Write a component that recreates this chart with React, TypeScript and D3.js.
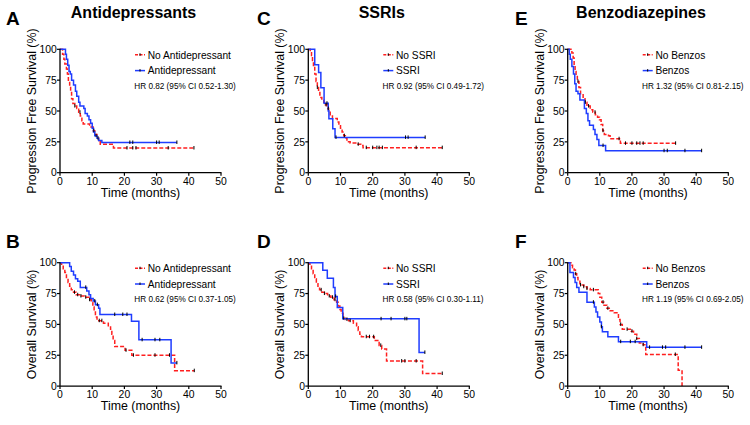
import React from 'react';
import * as d3 from 'd3';

type Pt = [number, number];

// ---------- Data (time in months, survival in %) ----------
// A: PFS, antidepressants
const aNoSteps: Pt[] = [[0,100],[0.8,96],[1.2,92],[1.5,88],[2,84],[2.3,80],[2.6,75],[3,70],[3.3,65],[3.6,60],[4,56],[4.6,54],[5.2,52],[5.8,49],[6.3,46],[6.8,42],[7.2,39.5],[9.2,37],[10.3,34],[10.8,31],[11.5,28],[12,26],[12.5,23],[16.6,20],[41.6,20]];
const aNoCens: number[] = [4.6, 6.2, 10.5, 11.8, 20.8, 22.6, 23.6, 33.6, 41.6];
const aYesSteps: Pt[] = [[0,100],[1.7,96],[2,92],[2.4,87],[2.8,82],[3.2,80],[3.6,75],[4.2,71],[4.8,66],[5.2,62],[5.8,57],[6.2,54],[7.4,52],[7.8,48],[8.5,46],[9,43],[9.5,40],[10,36],[10.4,33],[10.8,30],[11.5,28],[12,26],[13,24.5],[36.3,24.5]];
const aYesCens: number[] = [11.2, 21.7, 22.6, 30, 30.8, 36.3];

// B: OS, antidepressants
const bNoSteps: Pt[] = [[0,100],[0.5,98],[1,95],[1.5,92],[2,88],[2.5,84],[3,81],[3.5,78],[4.2,76],[5,74],[6,73],[7.5,72],[9,70],[9.7,68],[10.2,64],[10.6,60],[11,56],[11.5,53],[13.5,51],[15,49],[15.7,46],[16.1,42],[16.5,37],[17,32],[20.2,29],[22.3,25],[35.6,12.5],[41.7,12.5]];
const bNoCens: number[] = [4.5, 5.5, 6.5, 8, 9.2, 12.2, 13, 20.5, 22.8, 29.5, 34, 41.7];
const bYesSteps: Pt[] = [[0,100],[3,97],[3.5,93],[4.2,90],[4.8,87],[5.5,85],[6.3,80],[8.3,77],[9,74],[9.5,71],[10.3,69],[11,66],[12,63],[12.4,58],[22.2,52.5],[24.5,37.5],[34.5,18.8],[36.3,18.8]];
const bYesCens: number[] = [8, 10.8, 11.6, 17, 19.5, 20.8, 25.5, 29.5, 31, 36.3];

// C: PFS, SSRIs
const cNoSteps: Pt[] = [[0,100],[0.6,98],[1,95],[1.3,91],[1.6,86],[2,80],[2.4,74],[2.8,69],[3.2,65],[3.6,61],[4.2,59],[4.8,57],[5.3,55],[5.8,52],[6.3,49],[6.8,46],[7.5,44],[9,41],[9.5,38],[10,36],[10.5,33],[11,30],[11.5,28],[12,25],[13,24],[15,23],[16.3,22],[17,20.3],[41.6,20.3]];
const cNoCens: number[] = [2.8, 5.5, 6.2, 11.2, 15.5, 18, 20, 21.3, 22, 23, 33.5, 41.6];
const cYesSteps: Pt[] = [[0,100],[2,87.5],[3.2,81.3],[3.9,68.8],[4.9,56.3],[6.2,50],[6.4,43.8],[7.6,35.7],[8.3,28.6],[36.3,28.6]];
const cYesCens: number[] = [5.8, 8.6, 30.2, 31, 36.3];

// D: OS, SSRIs
const dNoSteps: Pt[] = [[0,100],[0.5,98],[1,95],[1.5,91],[2,87],[2.5,83],[3,80],[3.5,78],[4.2,76],[5,75],[6,73],[7,72],[8,70],[8.8,68],[9.3,65],[9.8,62],[10.2,59],[10.8,55],[11.5,54],[12.5,53],[14,51],[15,48],[15.5,45],[16,42],[16.5,40],[20.5,37],[22,33],[22.8,30],[24.3,20.3],[35.5,10.2],[41.6,10.2]];
const dNoCens: number[] = [4, 5, 6.5, 7.5, 8.3, 11, 12, 13, 18, 19, 20.3, 22.5, 29, 30, 33.5, 41.6];
const dYesSteps: Pt[] = [[0,100],[4.5,93.8],[5.9,87.5],[7.8,80],[8.3,72.7],[9,63.6],[10.7,54.5],[34.4,27.3],[36.2,27.3]];
const dYesCens: number[] = [8.5, 22.6, 25.7, 30, 30.6, 36.2];

// E: PFS, benzodiazepines
const eNoSteps: Pt[] = [[0,100],[1.3,97],[1.7,93],[2,87],[2.3,82],[2.6,78],[3,74],[3.5,69],[4,64],[4.8,60],[5.4,57],[6,54],[7,51],[7.8,49],[8.6,47],[9.3,45],[9.9,43],[10.4,39],[10.9,34],[11.4,31],[12.7,30],[13.2,27.5],[16.4,23.8],[33.6,23.8]];
const eNoCens: number[] = [3.2, 5.5, 6.5, 8.5, 11, 16, 18, 20, 21.5, 22.5, 23.5, 33.6];
const eYesSteps: Pt[] = [[0,100],[0.5,96],[0.8,92],[1.3,86],[1.8,80],[2.2,72],[2.6,66],[3.2,64],[3.8,59],[5.2,52],[5.8,48],[6.3,42],[6.8,38.5],[8,35],[8.5,31],[9.1,27],[9.7,22],[11.8,17.8],[41.7,17.8]];
const eYesCens: number[] = [11, 30, 31, 36.5, 41.7];

// F: OS, benzodiazepines
const fNoSteps: Pt[] = [[0,100],[1,98],[1.5,96],[2,94],[2.4,91],[2.8,88],[3.2,85],[3.8,82],[5,80.5],[6,79],[7,78],[9.5,75],[10,72],[10.6,68],[11.3,65.5],[12.2,63],[13.2,61],[14.5,59.5],[15.8,54],[16.3,50],[17,46],[19.8,44.5],[20.5,42],[21.5,38.5],[22.3,35],[23.5,33.5],[24.3,25.6],[34.4,12.8],[35.6,0]];
const fNoCens: number[] = [2.5, 4, 5, 6, 8, 11, 12.5, 16.5, 18.5, 20, 21.5, 23.5, 33.5];
const fYesSteps: Pt[] = [[0,100],[0.7,92],[1.8,88],[2.3,84],[2.8,80],[3.5,76],[6,68],[8.3,64],[8.8,60],[9.3,56],[10,52],[10.5,48],[10.8,44],[12.5,40],[15.8,36],[24.6,31.4],[41.7,31.4]];
const fYesCens: number[] = [8, 10.5, 16.5, 19.5, 21, 25.5, 29.5, 30.5, 36.5, 41.7];

// ---------- Labels ----------
const letters = ['A', 'B', 'C', 'D', 'E', 'F'];
const titles = ['Antidepressants', 'SSRIs', 'Benzodiazepines'];
const noLabels = ['No Antidepressant', 'No SSRI', 'No Benzos'];
const yesLabels = ['Antidepressant', 'SSRI', 'Benzos'];
const hrTexts = [
  'HR 0.82 (95% CI 0.52-1.30)',
  'HR 0.62 (95% CI 0.37-1.05)',
  'HR 0.92 (95% CI 0.49-1.72)',
  'HR 0.58 (95% CI 0.30-1.11)',
  'HR 1.32 (95% CI 0.81-2.15)',
  'HR 1.19 (95% CI 0.69-2.05)',
];
const yLabels = ['Progression Free Survival (%)', 'Overall Survival (%)'];
const xLabel = 'Time (months)';
const xTicks = [0, 10, 20, 30, 40, 50];
const yTicks = [0, 25, 50, 75, 100];

const noData: Pt[][] = [aNoSteps, bNoSteps, cNoSteps, dNoSteps, eNoSteps, fNoSteps];
const noCens: number[][] = [aNoCens, bNoCens, cNoCens, dNoCens, eNoCens, fNoCens];
const yesData: Pt[][] = [aYesSteps, bYesSteps, cYesSteps, dYesSteps, eYesSteps, fYesSteps];
const yesCens: number[][] = [aYesCens, bYesCens, cYesCens, dYesCens, eYesCens, fYesCens];

// ---------- Layout ----------
const colX = [60, 308.3, 567.7];
const colW = [161, 161, 160.6];
const letterX = [6, 257, 515];
const rowTop = [49.3, 262.7];
const PH = 123.4;
const RED = '#ff1f1f';
const BLUE = '#1f3dff';
const FONT = 'Liberation Sans, Arial, Helvetica, sans-serif';

function survAt(steps: Pt[], t: number): number {
  let s = steps[0][1];
  for (const [tt, ss] of steps) if (tt <= t + 1e-9) s = ss;
  return s;
}

function Panel({ idx }: { idx: number }) {
  const col = Math.floor(idx / 2);
  const row = idx % 2;
  const x0 = colX[col];
  const w = colW[col];
  const top = rowTop[row];
  const bottom = top + PH;
  const x = d3.scaleLinear().domain([0, 50]).range([x0, x0 + w]);
  const y = d3.scaleLinear().domain([0, 100]).range([bottom, top]);
  const line = d3.line<Pt>().x(d => x(d[0])).y(d => y(d[1])).curve(d3.curveStepAfter);
  const curves = [
    { data: noData[idx], cens: noCens[idx], color: RED, dash: '4,2' },
    { data: yesData[idx], cens: yesCens[idx], color: BLUE, dash: undefined },
  ];
  const lx = x0 + 75;
  return (
    <g>
      <text x={letterX[col]} y={row === 0 ? 25 : 248.3} fontFamily={FONT} fontWeight="bold" fontSize={19}>{letters[idx]}</text>
      {row === 0 && (
        <text x={x0 + w / 2 - 7} y={18.3} textAnchor="middle" fontFamily={FONT} fontWeight="bold" fontSize={16}>{titles[col]}</text>
      )}
      {curves.map((c, i) => (
        <path key={'c' + i} d={line(c.data) || ''} fill="none" stroke={c.color} strokeWidth={1.5} strokeDasharray={c.dash} />
      ))}
      {curves.map((c, i) => (
        <g key={'k' + i}>
          {c.cens.map((t, j) => {
            const cy = y(survAt(c.data, t));
            return <line key={j} x1={x(t)} x2={x(t)} y1={cy - 2} y2={cy + 1.5} stroke="#000" strokeWidth={1} />;
          })}
        </g>
      ))}
      {/* axes */}
      <line x1={x0} x2={x0} y1={top - 0.5} y2={bottom} stroke="#000" strokeWidth={1.3} />
      <line x1={x0} x2={x0 + w + 0.5} y1={bottom} y2={bottom} stroke="#000" strokeWidth={1.3} />
      {xTicks.map(t => (
        <g key={'x' + t}>
          <line x1={x(t)} x2={x(t)} y1={bottom} y2={bottom + 3} stroke="#000" strokeWidth={1.2} />
          <text x={x(t)} y={bottom + 11.8} textAnchor="middle" fontFamily={FONT} fontSize={10.4}>{t}</text>
        </g>
      ))}
      {yTicks.map(t => (
        <g key={'y' + t}>
          <line x1={x0 - 3} x2={x0} y1={y(t)} y2={y(t)} stroke="#000" strokeWidth={1.2} />
          <text x={x0 - 3.2} y={y(t) + 3.7} textAnchor="end" fontFamily={FONT} fontSize={10.4}>{t}</text>
        </g>
      ))}
      <text x={x0 + w / 2} y={bottom + 24} textAnchor="middle" fontFamily={FONT} fontSize={12.4}>{xLabel}</text>
      <text transform={`translate(${x0 - 24},${(top + bottom) / 2}) rotate(-90)`} textAnchor="middle" fontFamily={FONT} fontSize={12.4}>{yLabels[row]}</text>
      {/* legend */}
      <line x1={lx} x2={lx + 10} y1={top + 5.5} y2={top + 5.5} stroke={RED} strokeWidth={1.5} strokeDasharray="3,1.5" />
      <line x1={lx + 5} x2={lx + 5} y1={top + 4} y2={top + 6.5} stroke="#000" strokeWidth={1} />
      <text x={lx + 12.7} y={top + 9.3} fontFamily={FONT} fontSize={10.2}>{noLabels[col]}</text>
      <line x1={lx} x2={lx + 10} y1={top + 21.3} y2={top + 21.3} stroke={BLUE} strokeWidth={1.5} />
      <line x1={lx + 5} x2={lx + 5} y1={top + 19.8} y2={top + 22.3} stroke="#000" strokeWidth={1} />
      <text x={lx + 12.7} y={top + 25} fontFamily={FONT} fontSize={10.2}>{yesLabels[col]}</text>
      <text x={x0 + 74.3} y={top + 39.2} fontFamily={FONT} fontSize={8.2}>{hrTexts[idx]}</text>
    </g>
  );
}

export default function App() {
  return (
    <svg width={750} height={425} style={{ position: 'absolute', left: 0, top: 0, background: '#fff' }}>
      <rect width={750} height={425} fill="#fff" />
      {letters.map((_, i) => <Panel key={i} idx={i} />)}
    </svg>
  );
}
